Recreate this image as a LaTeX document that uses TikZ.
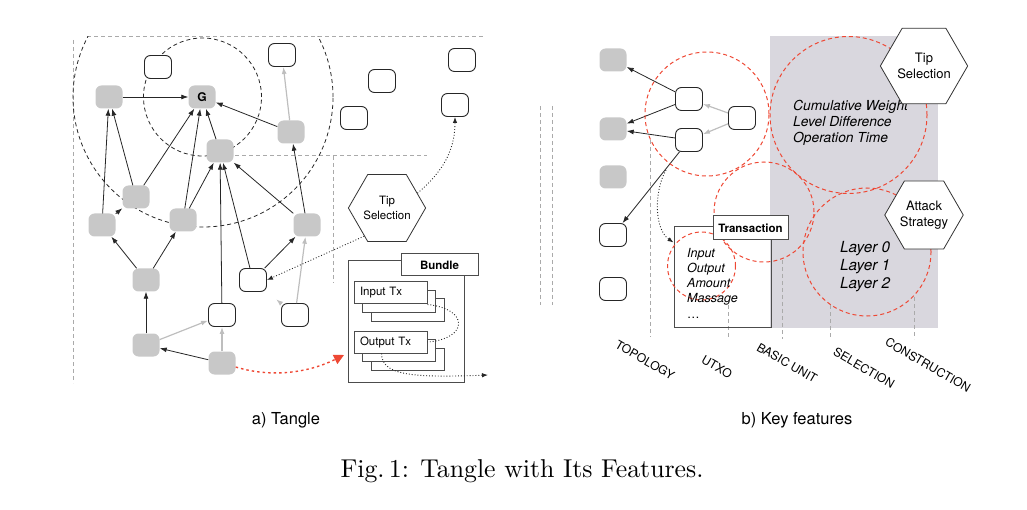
\documentclass[tikz,border=0pt]{standalone}
\usepackage{fontspec}
\newfontfamily\hv{TeX Gyre Heros}
\usetikzlibrary{arrows.meta,shapes.geometric}
\definecolor{nodegray}{RGB}{200,200,200}
\definecolor{grayarea}{RGB}{217,215,222}
\definecolor{redline}{RGB}{238,72,52}
\definecolor{arrowgray}{RGB}{190,190,190}
\definecolor{framegray}{RGB}{170,170,170}
\tikzstyle{txn} = [rectangle, rounded corners=6pt, minimum width=27pt, minimum height=23pt,
    inner sep=0pt, font=\hv\bfseries\fontsize{12}{14}\selectfont]
\tikzstyle{confirmed} = [txn, fill=nodegray]
\tikzstyle{pending} = [txn, draw=black!85, line width=0.9pt, fill=white]
\tikzstyle{hexa} = [regular polygon, regular polygon sides=6, minimum size=69pt, inner sep=0pt,
    draw=black!80, line width=0.8pt, fill=white, align=center, font=\hv\fontsize{11.5}{15}\selectfont]
\tikzstyle{hexabig} = [hexa, font=\hv\fontsize{13}{15.5}\selectfont]
\tikzstyle{ref} = [-{Latex[length=7pt,width=5pt]}, line width=0.8pt, black!85]
\tikzstyle{weak} = [-{Latex[length=7pt,width=5pt]}, line width=1.2pt, arrowgray]
\tikzstyle{walk} = [-{Latex[length=6pt,width=4.5pt]}, dotted, line width=0.9pt, black!85]
\tikzstyle{redwalk} = [-{Triangle[length=10pt,width=10pt]}, dash pattern=on 2.5pt off 3pt, line width=1.4pt, redline]
\tikzstyle{region} = [dash pattern=on 4pt off 3pt, line width=0.8pt, black!85]
\tikzstyle{feature} = [dash pattern=on 4pt off 3pt, line width=1pt, redline]
\tikzstyle{guide} = [dash pattern=on 4pt off 3pt, line width=1pt, framegray]
\tikzstyle{sheet} = [rectangle, draw=black!70, line width=1pt, fill=white, minimum width=73pt,
    minimum height=22pt, inner sep=0pt]
\tikzstyle{sheettext} = [sheet, inner xsep=6pt, text width=61pt, align=left, font=\hv\fontsize{11.5}{13}\selectfont]
\tikzstyle{boxtitle} = [rectangle, draw=black!70, line width=1pt, fill=white, inner sep=0pt,
    font=\hv\bfseries\fontsize{11.5}{13}\selectfont]
\tikzstyle{featlabel} = [rotate=-30, inner sep=0pt, font=\hv\fontsize{12}{14}\selectfont]

\begin{document}
\begin{tikzpicture}[x=1pt,y=1pt]
\useasboundingbox (0,0) rectangle (1027,509);

\draw[guide] (87,472) -- (485,472);
\draw[guide] (73,469) -- (73,126);
\draw[guide] (207,353) -- (427,353);
\draw[guide] (333,353) -- (333,226);
\begin{scope}
\clip (0,0) rectangle (1027,472);
\draw[region] (203,412) circle (130);
\end{scope}
\draw[region] (202.5,412) circle (59);

\node[pending] (w1) at (158,442) {};
\node[pending] (w2) at (282,454) {};
\node[confirmed] (a) at (109,412) {};
\node[confirmed] (g) at (202,412) {G};
\node[confirmed] (c) at (220,358) {};
\node[confirmed] (d) at (291,377) {};
\node[confirmed] (f) at (136,312) {};
\node[confirmed] (h) at (102,284) {};
\node[confirmed] (i) at (183,289) {};
\node[confirmed] (j) at (307,284) {};
\node[confirmed] (k) at (146,229) {};
\node[confirmed] (l) at (146,164) {};
\node[pending] (m) at (222,194) {};
\node[pending] (n) at (253,229) {};
\node[pending] (o) at (295,194) {};
\node[confirmed] (p) at (222,146) {};
\node[pending] (t1) at (382,428) {};
\node[pending] (t2) at (462,449) {};
\node[pending] (t3) at (354,391) {};
\node[pending] (t4) at (455,404) {};

\foreach \s/\t in {a/g, d/g, c/g, f/g, i/g, h/a, f/a, h/f, i/c, m/c, n/c, j/c, j/d, k/h, k/i, l/k, p/l, n/j}
    \draw[ref] (\s) -- (\t);
\foreach \s/\t in {d/w2, l/m, p/m, o/j}
    \draw[weak] (\s) -- (\t);
\draw[weak, shorten >=12pt] (o) -- (n);

\node[hexa] (tipL) at (387,301) {Tip\\Selection};
\draw[walk] (tipL.26) to[out=40,in=-90] (t4.south);
\draw[walk] (tipL.231) -- (n.east);

\node[sheet, minimum width=116pt, minimum height=121pt] (bundle) at (406,187.5) {};
\node[boxtitle, minimum width=77pt, minimum height=22pt] (bname) at (439.5,244) {Bundle};
\node[sheet] (in3) at (407.5,199) {};
\node[sheet] (in2) at (399,207.5) {};
\node[sheettext] (in1) at (390.5,216) {Input Tx};
\node[sheet] (out3) at (407.5,150) {};
\node[sheet] (out2) at (399,158.5) {};
\node[sheettext] (out1) at (390.5,167) {Output Tx};
\draw[dotted, line width=0.9pt, black!85] (in1.south east) .. controls (470,200) and (468,170) .. (out1.east);
\coordinate (next) at (488,134);
\draw[walk] ([xshift=-9pt]out1.south) .. controls (382,134) and (410,131) .. (next);
\coordinate (drop) at (344,154);
\draw[redwalk] ([yshift=-4pt]p.east) .. controls (275,130) and (312,138) .. (drop);

\draw[guide] (540,403) -- (540,204);
\draw[guide] (552,403) -- (552,204);
\fill[grayarea] (770,181) rectangle (938,473);

\draw[guide] (650,369) -- (650,172);
\draw[guide] (728,204) -- (728,170);
\draw[guide] (782,249) -- (782,170);
\draw[guide] (830,204) -- (830,170);
\draw[guide] (914,212) -- (914,170);

\node[confirmed] (r1) at (613,449) {};
\node[confirmed] (r2) at (613,380) {};
\node[confirmed] (r3) at (613,332) {};
\node[pending] (r4) at (613,274) {};
\node[pending] (r5) at (613,220) {};
\node[pending] (s1) at (689,410) {};
\node[pending] (s2) at (689,369) {};
\node[pending] (s3) at (742,391) {};
\foreach \s/\t in {s1/r1, s1/r2, s2/r2, s2/r4}
    \draw[ref] (\s) -- (\t);
\foreach \s/\t in {s3/s1, s3/s2}
    \draw[weak] (\s) -- (\t);

\node[draw=black!70, line width=1pt, minimum width=97pt, minimum height=100pt, inner sep=0pt] (utxo) at (722.5,232) {};
\coordinate (spent) at (666,339);
\draw[walk] (spent) .. controls (654,318) and (654,280) .. ([yshift=-16pt]utxo.north west);

\draw[feature] (707,395) circle (62);
\draw[feature] (848.5,394) circle (78.5);
\draw[feature] (764,297) circle (50);
\draw[feature] (867,257) circle (64);
\draw[feature] (701.5,243) circle (34);

\node[boxtitle, minimum width=75pt, minimum height=24pt] (uname) at (750.5,281) {Transaction};
\node[anchor=north west, align=left, inner sep=0pt, font=\hv\itshape\fontsize{12.5}{15}\selectfont] (fields) at (687,261) {Input\\Output\\Amount\\Massage};
\node[anchor=west, inner sep=0pt, font=\hv\fontsize{12.5}{15}\selectfont] (more) at (687,191) {\dots};
\node[anchor=north west, align=left, inner sep=0pt, font=\hv\itshape\fontsize{13.8}{16}\selectfont] (metrics) at (793,409.5) {Cumulative Weight\\Level Difference\\Operation Time};
\node[anchor=north west, align=left, inner sep=0pt, font=\hv\itshape\fontsize{15.3}{18}\selectfont] (layers) at (840,267.5) {Layer 0\\Layer 1\\Layer 2};

\node[hexabig] (tipR) at (924,443) {Tip\\Selection};
\node[hexabig] (attack) at (924,294) {Attack\\Strategy};

\node[featlabel] (topo) at (645,149) {TOPOLOGY};
\node[featlabel] (utxolab) at (717,142) {UTXO};
\node[featlabel] (basic) at (787,146) {BASIC UNIT};
\node[featlabel] (sel) at (864,141) {SELECTION};
\node[featlabel] (cons) at (928,144) {CONSTRUCTION};

\node[font=\hv\fontsize{16.5}{20}\selectfont] (capa) at (286,89) {a) Tangle};
\node[font=\hv\fontsize{16.5}{20}\selectfont] (capb) at (797,89) {b) Key features};
\node[font=\fontsize{10}{12}\selectfont, scale=2.58] (caption) at (522,38) {Fig.\,1: Tangle with Its Features.};
\end{tikzpicture}
\end{document}
